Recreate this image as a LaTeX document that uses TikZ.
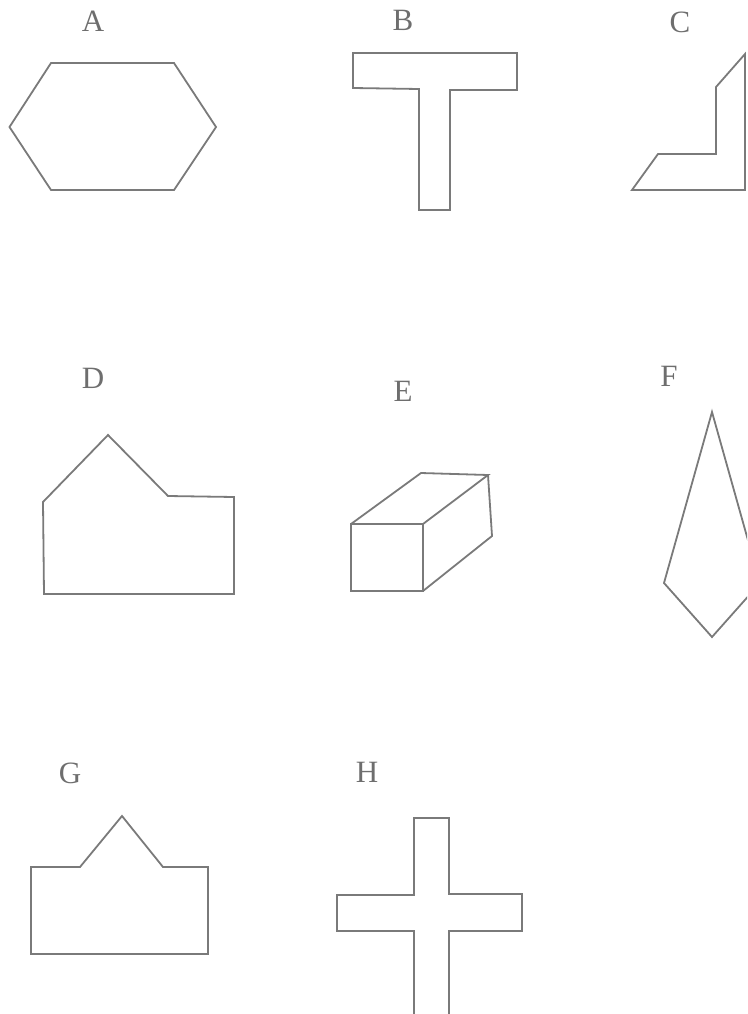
\documentclass[tikz,border=0pt]{standalone}
\usepackage{fontspec}
\setmainfont{Liberation Serif}
\usepackage{xcolor}
\usepackage{tikz}
\usetikzlibrary{positioning}

\definecolor{shapegray}{HTML}{7A7A7A}
\definecolor{labelgray}{HTML}{6E6E6E}

\begin{document}
\begin{tikzpicture}[
    x=1pt, y=-1pt,
    figure/.style={draw=shapegray, line width=1.8pt, line join=miter},
    lbl/.style={font=\fontsize{31}{34}\selectfont, text=labelgray, inner sep=0pt}
]
\useasboundingbox (0,0) rectangle (747,1014);
\clip (0,0) rectangle (747,1014);

% Labels
\node[lbl] (lblA) at (93,21) {A};
\node[lbl] (lblB) at (403,20) {B};
\node[lbl] (lblC) at (680,22) {C};
\node[lbl] (lblD) at (93,378) {D};
\node[lbl] (lblE) at (403,391) {E};
\node[lbl] (lblF) at (669,376) {F};
\node[lbl] (lblG) at (70,773) {G};
\node[lbl] (lblH) at (367,772) {H};

% Row 1
\draw[figure] (51,63) -- (174,63) -- (216,127) -- (174,190) -- (51,190) -- (9.5,127) -- cycle;
\draw[figure] (353,53) -- (517,53) -- (517,90) -- (450,90) -- (450,210) -- (419,210) -- (419,89) -- (353,88) -- cycle;
\draw[figure] (745,54) -- (716,87) -- (716,154) -- (658,154) -- (632,190) -- (745,190) -- cycle;

% Row 2
\draw[figure] (43,502) -- (108,435) -- (168,496) -- (234,497) -- (234,594) -- (44,594) -- cycle;
% box in perspective
\draw[figure] (351,524) rectangle (423,591);
\draw[figure] (351,524) -- (421,473) -- (488,475) -- (423,524);
\draw[figure] (488,475) -- (492,536) -- (423,591);
\draw[figure] (712,412) -- (760,583) -- (712,637) -- (664,583) -- cycle;

% Row 3
\draw[figure] (31,867) -- (80,867) -- (122,816) -- (163,867) -- (208,867) -- (208,954) -- (31,954) -- cycle;
\draw[figure] (414,818) -- (449,818) -- (449,894) -- (522,894) -- (522,931) -- (449,931)
    -- (449,1030) -- (414,1030) -- (414,931) -- (337,931) -- (337,895) -- (414,895) -- cycle;

\end{tikzpicture}
\end{document}
